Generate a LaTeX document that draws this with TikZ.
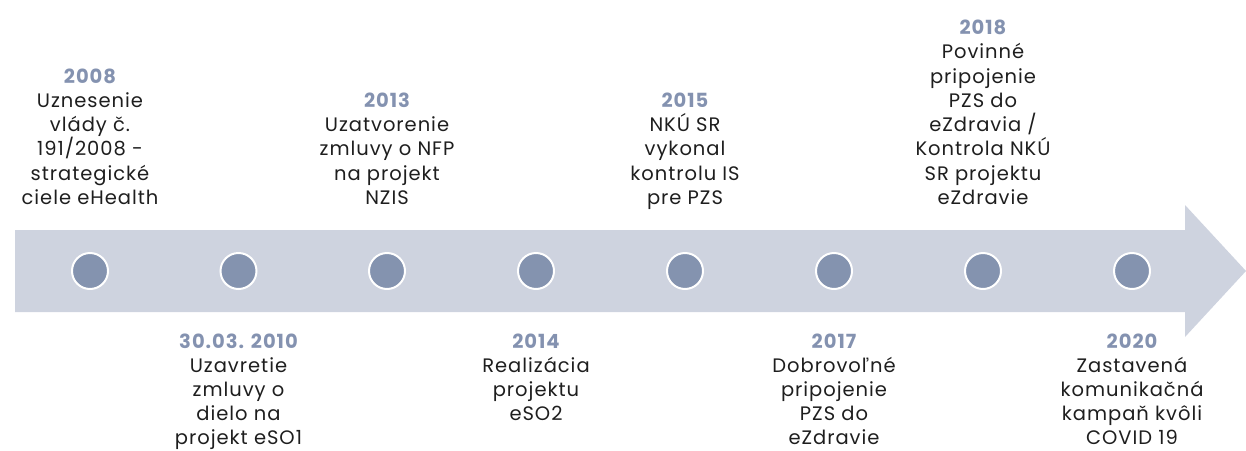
\documentclass[tikz,border=0pt]{standalone}
\usepackage{fontspec}
\setmainfont{Poppins}[LetterSpace=5]
\definecolor{band}{HTML}{CED3DF}
\definecolor{dot}{HTML}{8493AF}
\definecolor{yr}{HTML}{8492B0}
\definecolor{txt}{HTML}{1E1E1E}
\begin{document}
\begin{tikzpicture}[x=1pt,y=-1pt,
  dotnode/.style={circle,fill=dot,draw=white,line width=2pt,minimum size=36pt,inner sep=0pt},
  uptext/.style={anchor=south,inner sep=0pt,align=center,text=txt,font=\fontsize{19.5}{24.3}\selectfont},
  lowtext/.style={anchor=north,inner sep=0pt,align=center,text=txt,font=\fontsize{19.5}{24.1}\selectfont}]
\useasboundingbox (0,0) rectangle (1246,450);
\fill[band] (15,230) -- (1185,230) -- (1185,205) -- (1246,271) -- (1185,337) -- (1185,312) -- (15,312) -- cycle;
\foreach \i/\x in {1/90,2/238.5,3/387,4/536,5/685,6/834,7/983,8/1132}
  \node[dotnode] (c\i) at (\x,271) {};
\newcommand{\yy}[1]{{\color{yr}\bfseries #1}}
\node[uptext] (t1) at (c1.south |- 0,212) {\yy{2008}\\Uznesenie\\vlády č.\\191/2008 -\\strategické\\ciele eHealth\strut};
\node[uptext] (t3) at (c3.south |- 0,212) {\yy{2013}\\Uzatvorenie\\zmluvy o NFP\\na projekt\\NZIS\strut};
\node[uptext] (t5) at (c5.south |- 0,212) {\yy{2015}\\NKÚ SR\\vykonal\\kontrolu IS\\pre PZS\strut};
\node[uptext] (t7) at (c7.south |- 0,212) {\yy{2018}\\Povinné\\pripojenie\\PZS do\\eZdravia /\\Kontrola NKÚ\\SR projektu\\eZdravie\strut};
\node[lowtext] (t2) at (c2.north |- 0,331) {\strut\yy{30.03. 2010}\\Uzavretie\\zmluvy o\\dielo na\\projekt eSO1};
\node[lowtext] (t4) at (c4.north |- 0,331) {\strut\yy{2014}\\Realizácia\\projektu\\eSO2};
\node[lowtext] (t6) at (c6.north |- 0,331) {\strut\yy{2017}\\Dobrovoľné\\pripojenie\\PZS do\\eZdravie};
\node[lowtext] (t8) at (c8.north |- 0,331) {\strut\yy{2020}\\Zastavená\\komunikačná\\kampaň kvôli\\COVID 19};
\end{tikzpicture}
\end{document}
